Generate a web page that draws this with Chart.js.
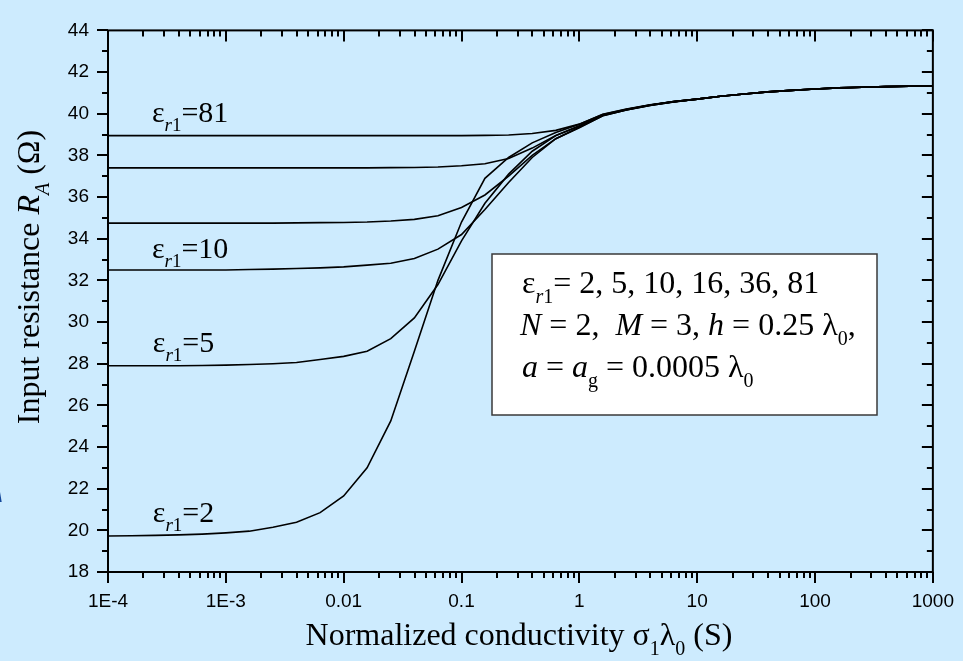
<!DOCTYPE html>
<html>
<head>
<meta charset="utf-8">
<script src="https://cdn.jsdelivr.net/npm/chart.js@4.4.1/dist/chart.umd.min.js"></script>
<style>
  html, body { margin: 0; padding: 0; background: #ffffff; }
  #wrap { width: 972px; height: 661px; }
</style>
</head>
<body>
<div id="wrap"><canvas id="grafico" width="972" height="661"></canvas></div>
<script>
// Conductividad normalizada sigma1*lambda0 (S), 5 puntos por década
const sigma = [0.0001, 0.000158, 0.000251, 0.000398, 0.000631, 0.001, 0.00158, 0.00251, 0.00398, 0.00631,
               0.01, 0.0158, 0.0251, 0.0398, 0.0631, 0.1, 0.158, 0.251, 0.398, 0.631,
               1, 1.58, 2.51, 3.98, 6.31, 10, 15.8, 25.1, 39.8, 63.1,
               100, 158, 251, 398, 631, 1000];

// Resistencia de entrada R_A (ohm) para cada epsilon_r1
const rEps2  = [19.73, 19.74, 19.76, 19.78, 19.82, 19.88, 19.96, 20.15, 20.39, 20.85,
                21.65, 23.0, 25.25, 28.6, 32.0, 34.8, 36.9, 37.9, 38.6, 39.1,
                39.5, 39.96, 40.21, 40.42, 40.58, 40.7, 40.84, 40.95, 41.05, 41.12,
                41.19, 41.24, 41.27, 41.3, 41.32, 41.33];
const rEps5  = [27.9, 27.9, 27.9, 27.9, 27.91, 27.93, 27.96, 28.0, 28.06, 28.2,
                28.35, 28.6, 29.2, 30.2, 31.8, 33.9, 35.7, 37.1, 38.2, 38.95,
                39.4, 39.93, 40.2, 40.42, 40.58, 40.7, 40.84, 40.95, 41.05, 41.12,
                41.19, 41.24, 41.27, 41.3, 41.32, 41.33];
const rEps10 = [32.5, 32.5, 32.5, 32.5, 32.5, 32.5, 32.52, 32.54, 32.57, 32.6,
                32.65, 32.73, 32.82, 33.05, 33.5, 34.2, 35.4, 36.7, 37.9, 38.8,
                39.33, 39.9, 40.18, 40.4, 40.57, 40.7, 40.84, 40.95, 41.05, 41.12,
                41.19, 41.24, 41.27, 41.3, 41.32, 41.33];
const rEps16 = [34.75, 34.75, 34.75, 34.75, 34.75, 34.75, 34.75, 34.75, 34.76, 34.77,
                34.78, 34.8, 34.85, 34.93, 35.1, 35.5, 36.1, 37.0, 38.0, 38.8,
                39.35, 39.9, 40.18, 40.4, 40.57, 40.7, 40.84, 40.95, 41.05, 41.12,
                41.19, 41.24, 41.27, 41.3, 41.32, 41.33];
const rEps36 = [37.4, 37.4, 37.4, 37.4, 37.4, 37.4, 37.4, 37.4, 37.4, 37.4,
                37.4, 37.4, 37.41, 37.42, 37.44, 37.5, 37.6, 37.85, 38.35, 38.95,
                39.42, 39.93, 40.19, 40.41, 40.58, 40.7, 40.84, 40.95, 41.05, 41.12,
                41.19, 41.24, 41.27, 41.3, 41.32, 41.33];
const rEps81 = [38.95, 38.95, 38.95, 38.95, 38.95, 38.95, 38.95, 38.95, 38.95, 38.95,
                38.95, 38.95, 38.95, 38.95, 38.95, 38.95, 38.96, 38.98, 39.05, 39.2,
                39.5, 39.97, 40.22, 40.43, 40.58, 40.7, 40.84, 40.95, 41.05, 41.12,
                41.19, 41.24, 41.27, 41.3, 41.32, 41.33];

const xTickValues = [0.0001, 0.001, 0.01, 0.1, 1, 10, 100, 1000];
const xTickLabels = ["1E-4", "1E-3", "0.01", "0.1", "1", "10", "100", "1000"];

// Etiquetas de curva: valor de epsilon y punto de anclaje en coordenadas de datos
const curveLabelText = ["81", "10", "5", "2"];
const curveLabelX = [0.000236, 0.000236, 0.000240, 0.000240];
const curveLabelY = [39.6, 33.08, 28.54, 20.4];

const SERIF = "'Liberation Serif', 'Times New Roman', serif";

function fuente(size, italic) {
    return (italic ? "italic " : "") + size + "px " + SERIF;
}

// Dibuja trozos de texto con cursiva y subíndices; devuelve el ancho
function dibujarTrozos(ctx, x, y, trozos, size, medir) {
    let cx = x;
    trozos.forEach(t => {
        const s = t.sub ? Math.round(size * 0.62) : size;
        ctx.font = fuente(s, t.it);
        const dy = t.sub ? size * 0.3 : 0;
        if (!medir) ctx.fillText(t.t, cx, y + dy);
        cx += ctx.measureText(t.t).width;
    });
    return cx - x;
}

const fondoPlugin = {
    id: "fondo",
    beforeDraw(chart) {
        const ctx = chart.ctx;
        ctx.save();
        ctx.fillStyle = "#ffffff";
        ctx.fillRect(0, 0, chart.width, chart.height);
        ctx.fillStyle = "#cdebfe";
        ctx.fillRect(0, 0, 963, chart.height);
        // resto de una letra de la diapositiva
        ctx.fillStyle = "#14479a";
        ctx.font = "bold italic 58px 'Liberation Sans', Arial, sans-serif";
        ctx.fillText("A", -36, 502);
        ctx.restore();
    }
};

const marcoPlugin = {
    id: "marco",
    afterDatasetsDraw(chart) {
        const ctx = chart.ctx;
        const a = chart.chartArea;
        const sx = chart.scales.x;
        const sy = chart.scales.y;
        ctx.save();
        ctx.strokeStyle = "#000";
        ctx.lineWidth = 2;
        ctx.strokeRect(a.left, a.top, a.right - a.left, a.bottom - a.top);
        ctx.beginPath();
        for (let v = 18; v <= 44; v++) {
            const y = Math.round(sy.getPixelForValue(v));
            const largo = v % 2 === 0 ? 11 : 6;
            ctx.moveTo(a.left - largo, y); ctx.lineTo(a.left, y);
            ctx.moveTo(a.right - largo, y); ctx.lineTo(a.right, y);
        }
        for (let e = -4; e <= 3; e++) {
            for (let k = 1; k <= 9; k++) {
                if (e === 3 && k > 1) break;
                const x = Math.round(sx.getPixelForValue(k * Math.pow(10, e)));
                const largo = k === 1 ? 11 : 6;
                ctx.moveTo(x, a.bottom); ctx.lineTo(x, a.bottom + largo);
                ctx.moveTo(x, a.top); ctx.lineTo(x, a.top + largo);
            }
        }
        ctx.stroke();
        ctx.restore();
    },
    afterDraw(chart) {
        const ctx = chart.ctx;
        const sx = chart.scales.x;
        const sy = chart.scales.y;
        ctx.save();
        ctx.fillStyle = "#000";
        ctx.textBaseline = "alphabetic";

        // etiquetas de curva
        curveLabelText.forEach((txt, i) => {
            const x = sx.getPixelForValue(curveLabelX[i]);
            const y = sy.getPixelForValue(curveLabelY[i]);
            dibujarTrozos(ctx, x, y, [
                { t: "ε" }, { t: "r", it: true, sub: true }, { t: "1", sub: true }, { t: "=" + txt }
            ], 30);
        });

        // cuadro de parámetros
        ctx.fillStyle = "#ffffff";
        ctx.fillRect(492, 254, 385, 161);
        ctx.strokeStyle = "#3a3a3a";
        ctx.lineWidth = 1.5;
        ctx.strokeRect(492, 254, 385, 161);
        ctx.fillStyle = "#000";
        dibujarTrozos(ctx, 522, 293, [
            { t: "ε" }, { t: "r", it: true, sub: true }, { t: "1", sub: true }, { t: "= 2, 5, 10, 16, 36, 81" }
        ], 32);
        dibujarTrozos(ctx, 520, 335, [
            { t: "N", it: true }, { t: " = 2,  " }, { t: "M", it: true }, { t: " = 3, " },
            { t: "h", it: true }, { t: " = 0.25 λ" }, { t: "0", sub: true }, { t: "," }
        ], 32);
        dibujarTrozos(ctx, 522, 377, [
            { t: "a", it: true }, { t: " = " }, { t: "a", it: true }, { t: "g", sub: true },
            { t: " = 0.0005 λ" }, { t: "0", sub: true }
        ], 32);

        // título eje x
        const tx = [
            { t: "Normalized conductivity σ" }, { t: "1", sub: true }, { t: "λ" }, { t: "0", sub: true }, { t: " (S)" }
        ];
        const wx = dibujarTrozos(ctx, 0, 0, tx, 32, true);
        dibujarTrozos(ctx, 519 - wx / 2, 645, tx, 32);

        // título eje y
        const ty = [
            { t: "Input resistance " }, { t: "R", it: true }, { t: "A", it: true, sub: true }, { t: " (Ω)" }
        ];
        const wy = dibujarTrozos(ctx, 0, 0, ty, 32, true);
        ctx.translate(39, 277);
        ctx.rotate(-Math.PI / 2);
        dibujarTrozos(ctx, -wy / 2, 0, ty, 32);
        ctx.restore();
    }
};

function serie(valores) {
    return {
        data: sigma.map((s, i) => ({ x: s, y: valores[i] })),
        borderColor: "#000000",
        borderWidth: 1.6,
        pointRadius: 0,
        tension: 0,
        fill: false
    };
}

const ctx = document.getElementById("grafico").getContext("2d");
new Chart(ctx, {
    type: "line",
    data: {
        datasets: [serie(rEps2), serie(rEps5), serie(rEps10), serie(rEps16), serie(rEps36), serie(rEps81)]
    },
    options: {
        responsive: false,
        animation: false,
        layout: { padding: { left: 0, right: 38, top: 16, bottom: 0 } },
        plugins: { legend: { display: false }, tooltip: { enabled: false } },
        scales: {
            x: {
                type: "logarithmic",
                min: 0.0001,
                max: 1000,
                afterBuildTicks: s => { s.ticks = xTickValues.map(v => ({ value: v })); },
                afterFit: s => { s.height = 89; },
                grid: { display: true, drawOnChartArea: false, drawTicks: false, color: "rgba(0,0,0,0)" },
                border: { display: false },
                ticks: {
                    autoSkip: false,
                    maxRotation: 0,
                    padding: 18,
                    color: "#000",
                    font: { family: "'Liberation Sans', Arial, sans-serif", size: 19 },
                    callback: (v, i) => xTickLabels[i]
                }
            },
            y: {
                min: 18,
                max: 44,
                afterFit: s => { s.width = 108; },
                grid: { display: true, drawOnChartArea: false, drawTicks: false, color: "rgba(0,0,0,0)" },
                border: { display: false },
                ticks: {
                    stepSize: 2,
                    padding: 19,
                    color: "#000",
                    font: { family: "'Liberation Sans', Arial, sans-serif", size: 19 }
                }
            }
        }
    },
    plugins: [fondoPlugin, marcoPlugin]
});
</script>
</body>
</html>
